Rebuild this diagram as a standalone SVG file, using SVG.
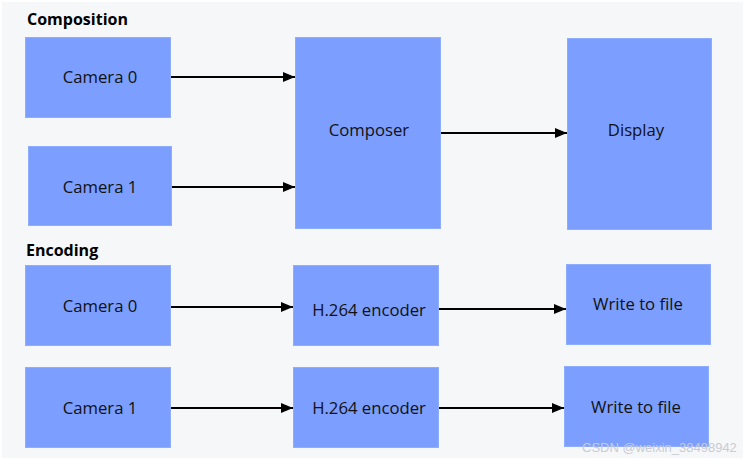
<svg xmlns="http://www.w3.org/2000/svg" width="745" height="460" viewBox="0 0 745 460">
<style>
.bg{fill:#f6f7f9}
.box{fill:#7b9eff;stroke:#8fadff;stroke-width:1}
.lbl{font-family:"Open Sans","Noto Sans","DejaVu Sans",sans-serif;font-size:16.7px;fill:#111;text-anchor:middle}
.hdr{font-family:"Open Sans","Noto Sans","DejaVu Sans",sans-serif;font-size:16px;font-weight:bold;fill:#000}
.edge{stroke:#000;stroke-width:2;fill:none;marker-end:url(#ah)}
.wm{font-family:"Liberation Sans",Arial,sans-serif;font-size:13px;fill:#c9ccd3}
</style>
<defs>
<marker id="ah" viewBox="0 0 12 10" refX="12" refY="5" markerWidth="12" markerHeight="10" markerUnits="userSpaceOnUse" orient="auto">
<path d="M0,0 L12,5 L0,10 z" fill="#000"/>
</marker>
</defs>
<rect x="0" y="0" width="745" height="460" fill="#ffffff"/>
<rect class="bg" x="2" y="2" width="741" height="456"/>
<text class="hdr" x="27" y="25">Composition</text>
<text class="hdr" x="26" y="256">Encoding</text>
<g id="comp-cam0"><rect class="box" x="25.5" y="37.5" width="145" height="80"/><text class="lbl" x="100" y="83">Camera 0</text></g>
<g id="comp-cam1"><rect class="box" x="28.5" y="146.5" width="143" height="79"/><text class="lbl" x="100" y="193">Camera 1</text></g>
<g id="composer"><rect class="box" x="295.5" y="37.5" width="145" height="191"/><text class="lbl" x="369" y="136">Composer</text></g>
<g id="display"><rect class="box" x="567.5" y="38.5" width="144" height="191"/><text class="lbl" x="636" y="136">Display</text></g>
<g id="enc-cam0"><rect class="box" x="25.5" y="265.5" width="145" height="80"/><text class="lbl" x="100" y="312">Camera 0</text></g>
<g id="enc-cam1"><rect class="box" x="25.5" y="367.5" width="145" height="80"/><text class="lbl" x="100" y="414">Camera 1</text></g>
<g id="enc0"><rect class="box" x="293.5" y="265.5" width="145" height="80"/><text class="lbl" x="369" y="316">H.264 encoder</text></g>
<g id="enc1"><rect class="box" x="293.5" y="367.5" width="145" height="80"/><text class="lbl" x="369" y="414">H.264 encoder</text></g>
<g id="file0"><rect class="box" x="566.5" y="264.5" width="144" height="80"/><text class="lbl" x="638" y="310">Write to file</text></g>
<g id="file1"><rect class="box" x="564.5" y="366.5" width="144" height="80"/><text class="lbl" x="636" y="413">Write to file</text></g>
<g id="connectors">
<line class="edge" x1="171" y1="77" x2="295" y2="77"/>
<line class="edge" x1="172" y1="187" x2="295" y2="187"/>
<line class="edge" x1="441" y1="133" x2="567" y2="133"/>
<line class="edge" x1="171" y1="307" x2="293" y2="307"/>
<line class="edge" x1="171" y1="408" x2="293" y2="408"/>
<line class="edge" x1="439" y1="309" x2="566" y2="309"/>
<line class="edge" x1="439" y1="408" x2="564" y2="408"/>
</g>
<text class="wm" x="582" y="452">CSDN @weixin_38498942</text>
</svg>
